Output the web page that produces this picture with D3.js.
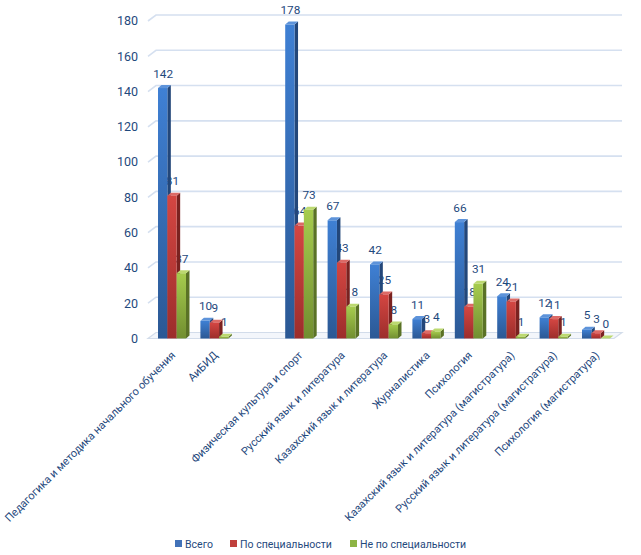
<!DOCTYPE html>
<html>
<head>
<meta charset="utf-8">
<script src="https://cdn.jsdelivr.net/npm/d3@7/dist/d3.min.js"></script>
<style>
  html, body { margin: 0; padding: 0; background: #fff; }
  svg { display: block; }
  text { font-family: Roboto, "Noto Sans", sans-serif; fill: #1F497D; }
</style>
</head>
<body>
<svg id="chart" width="641" height="555"></svg>
<script>
const categories = [
  "Педагогика и методика начального обучения",
  "АиБИД",
  "",
  "Физическая культура и спорт",
  "Русский язык и литература",
  "Казахский язык и литература",
  "Журналистика",
  "Психология",
  "Казахский язык и литература (магистратура)",
  "Русский язык и литература (магистратура)",
  "Психология (магистратура)"
];
const seriesNames = ["Всего", "По специальности", "Не по специальности"];
const totalValues = [142, 10, null, 178, 67, 42, 11, 66, 24, 12, 5];
const bySpecValues = [81, 9, null, 64, 43, 25, 3, 18, 21, 11, 3];
const notSpecValues = [37, 1, null, 73, 18, 8, 4, 31, 1, 1, 0];
const yTicks = [0, 20, 40, 60, 80, 100, 120, 140, 160, 180];

const seriesValues = [totalValues, bySpecValues, notSpecValues];
const palette = [
  { top: "#5d93da", fTop: "#3f80d4", fBot: "#2b5894", side: "#23477a", sq: "#4272b8" },
  { top: "#dc6a66", fTop: "#d44642", fBot: "#9c2d2b", side: "#7a2220", sq: "#c0403c" },
  { top: "#bcd970", fTop: "#a6cc4e", fBot: "#718e30", side: "#5a7226", sq: "#8db444" }
];

const svg = d3.select("#chart");
const defs = svg.append("defs");
palette.forEach((p, i) => {
  const g = defs.append("linearGradient").attr("id", "front" + i)
    .attr("x1", 0).attr("y1", 0).attr("x2", 0).attr("y2", 1);
  g.append("stop").attr("offset", "0%").attr("stop-color", p.fTop);
  g.append("stop").attr("offset", "100%").attr("stop-color", p.fBot);
});

const DX = 8, DY = 6;       // wall depth
const bdx = 3.5, bdy = 3;   // bar depth

const x = d3.scaleBand().domain(categories.map((c, i) => i)).range([150.8, 617.2]);
const groupW = x.step() * 0.66;
const xs = d3.scaleBand().domain([0, 1, 2]).range([0, groupW]);
const y = d3.scaleLinear().domain([0, 180]).range([338.5, 21]);
const x0 = 148, x1 = 614;

function fitSize(sel, target, base) {
  const n = sel.node();
  const len = n.getComputedTextLength();
  return len > 0 ? base * target / len : base;
}

// gridlines on back wall
svg.append("g").selectAll("path").data(yTicks.filter(v => v > 0)).join("path")
  .attr("d", v => `M${x0},${y(v)} L${x0 + DX},${y(v) - DY} L${x1 + DX},${y(v) - DY}`)
  .attr("fill", "none").attr("stroke", "#d5e0f0").attr("stroke-width", 1.6);

// floor
svg.append("path")
  .attr("d", `M${x0},${y(0)} L${x1},${y(0)} L${x1 + DX},${y(0) - DY} L${x0 + DX},${y(0) - DY} Z`)
  .attr("fill", "#f3f6fb").attr("stroke", "#d2dcea").attr("stroke-width", 1.2);

// y axis labels
svg.append("g").selectAll("text").data(yTicks).join("text")
  .attr("x", 138).attr("y", v => y(v)).attr("dy", "0.35em")
  .attr("text-anchor", "end").attr("font-size", 12.5).text(v => v);

const barData = [];
categories.forEach((c, i) => {
  seriesValues.forEach((vals, s) => {
    if (vals[i] !== null && vals[i] !== undefined) {
      barData.push({ i, s, v: vals[i], bx: x(i) + (x.step() - groupW) / 2 + xs(s), w: xs.bandwidth() });
    }
  });
});

// value labels (behind bars)
svg.append("g").selectAll("text").data(barData).join("text")
  .attr("x", d => d.bx + d.w / 2 + 0.5).attr("y", d => y(d.v) - 10.5)
  .attr("text-anchor", "middle").attr("font-size", 11.8).text(d => d.v);

// bars
const bars = svg.append("g").selectAll("g").data(barData).join("g");
bars.append("path")
  .attr("d", d => {
    const t = y(d.v), b = y(0), r = d.bx + d.w;
    return `M${r},${t} L${r + bdx},${t - bdy} L${r + bdx},${b - bdy} L${r},${b} Z`;
  })
  .attr("fill", d => palette[d.s].side);
bars.append("path")
  .attr("d", d => {
    const t = y(d.v), l = d.bx, r = d.bx + d.w;
    return `M${l},${t} L${l + bdx},${t - bdy} L${r + bdx},${t - bdy} L${r},${t} Z`;
  })
  .attr("fill", d => palette[d.s].top);
bars.filter(d => d.v > 0).append("rect")
  .attr("x", d => d.bx).attr("y", d => y(d.v))
  .attr("width", d => d.w).attr("height", d => y(0) - y(d.v))
  .attr("fill", d => `url(#front${d.s})`);

// x category labels
const xl = svg.append("g").selectAll("text").data(categories.map((c, i) => ({ c, i })).filter(d => d.c)).join("text")
  .attr("transform", d => `translate(${x(d.i) + x.step() / 2 + 4},356) rotate(-45)`)
  .attr("text-anchor", "end").attr("font-size", 12).text(d => d.c);
const xlSize = fitSize(xl.filter((d, k) => k === 0), 236, 12);
xl.attr("font-size", xlSize);

// legend
const legendX = [175, 230, 350];
const lg = svg.append("g").selectAll("g").data(seriesNames).join("g")
  .attr("transform", (d, i) => `translate(${legendX[i]},540)`);
lg.append("rect").attr("width", 7).attr("height", 7).attr("fill", (d, i) => palette[i].sq);
const lt = lg.append("text").attr("x", 10).attr("y", 7.5).attr("font-size", 12).text(d => d);
lt.attr("font-size", fitSize(lt.filter((d, k) => k === 1), 92, 12));
</script>
</body>
</html>
